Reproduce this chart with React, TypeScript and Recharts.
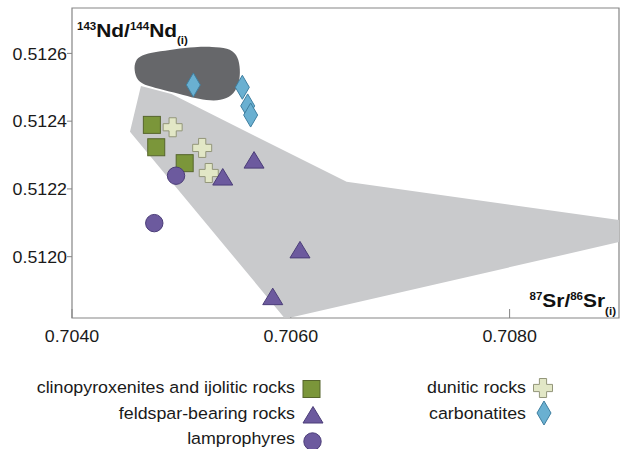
import React from 'react';
import { ScatterChart, Scatter, XAxis, YAxis, ReferenceArea, Curve } from 'recharts';

// 87Sr/86Sr(i) vs 143Nd/144Nd(i) values
const clinoSr = [0.70473, 0.70477, 0.70503];
const clinoNd = [0.512389, 0.512323, 0.512276];

const duniticSr = [0.70492, 0.70519, 0.70525];
const duniticNd = [0.512382, 0.512321, 0.512247];

const feldsparSr = [0.705378, 0.705664, 0.706084, 0.705835];
const feldsparNd = [0.512235, 0.512285, 0.51202, 0.511882];

const lamproSr = [0.704951, 0.704752];
const lamproNd = [0.512239, 0.512099];

const carboSr = [0.705109, 0.705557, 0.705606, 0.705633];
const carboNd = [0.512507, 0.5125, 0.512445, 0.512418];

// light grey field (outline vertices)
const fieldSr = [0.70453, 0.70463, 0.70491, 0.70651, 0.709, 0.709, 0.70602, 0.70594];
const fieldNd = [0.512369, 0.512504, 0.51248, 0.512221, 0.512108, 0.512043, 0.511822, 0.51182];

// dark grey field (outline control points)
const blobSr = [
  0.704567, 0.704576, 0.704631, 0.704759, 0.704941, 0.705124, 0.70528, 0.705426, 0.705508, 0.705536,
  0.705536, 0.705499, 0.705417, 0.705298, 0.705161, 0.705024, 0.704841, 0.704686, 0.704594,
];
const blobNd = [
  0.512551, 0.512578, 0.512595, 0.512604, 0.512613, 0.512619, 0.51262, 0.512616, 0.512598, 0.512563,
  0.512524, 0.512489, 0.512465, 0.512459, 0.512465, 0.512477, 0.512492, 0.512504, 0.512519,
];

const xTicks = [0.704, 0.706, 0.708];
const yTicks = [0.512, 0.5122, 0.5124, 0.5126];

const toPoints = (sr: number[], nd: number[]) => sr.map((v, i) => ({ sr: v, nd: nd[i] }));

const FONT = '"Liberation Sans", Arial, sans-serif';
const STRETCH = 1.08;
const FS = 16.5;
const AXIS = '#858585';

const Square = ({ cx, cy }: any) => (
  <rect x={cx - 8.5} y={cy - 8.5} width={17} height={17} fill="#7b963a" stroke="#56652c" strokeWidth={1} />
);

const Cross = ({ cx, cy }: any) => {
  const a = 9.5;
  const b = 3.6;
  const d = `M${cx - b},${cy - a}H${cx + b}V${cy - b}H${cx + a}V${cy + b}H${cx + b}V${cy + a}H${cx - b}V${cy + b}H${cx - a}V${cy - b}H${cx - b}Z`;
  return <path d={d} fill="#e2e7c6" stroke="#93967a" strokeWidth={1} />;
};

const Triangle = ({ cx, cy }: any) => (
  <polygon
    points={`${cx},${cy - 8.5} ${cx + 10},${cy + 8} ${cx - 10},${cy + 8}`}
    fill="#6c5a9e"
    stroke="#4b3d78"
    strokeWidth={1}
  />
);

const Dot = ({ cx, cy }: any) => <circle cx={cx} cy={cy} r={8.7} fill="#6c5a9e" stroke="#4b3d78" strokeWidth={1} />;

const Diamond = ({ cx, cy }: any) => (
  <polygon
    points={`${cx},${cy - 12} ${cx + 7},${cy} ${cx},${cy + 12} ${cx - 7},${cy}`}
    fill="#6ab0d1"
    stroke="#3f7fa0"
    strokeWidth={1}
  />
);

const XTick = ({ x, y, payload }: any) => (
  <text
    transform={`translate(${x},${y}) scale(${STRETCH},1)`}
    textAnchor="middle"
    dy="0.71em"
    fontSize={FS}
    fontFamily={FONT}
    fill="#1a1a1a"
  >
    {payload.value.toFixed(4)}
  </text>
);

const YTick = ({ x, y, payload }: any) => (
  <text
    transform={`translate(${x},${y}) scale(${STRETCH},1)`}
    textAnchor="end"
    dy="0.38em"
    fontSize={FS}
    fontFamily={FONT}
    fill="#1a1a1a"
  >
    {payload.value.toFixed(4)}
  </text>
);

const LegendRow = ({ x, y, label, Shape, sx, sy }: any) => (
  <g>
    <text
      transform={`translate(${x},${y}) scale(${STRETCH},1)`}
      textAnchor="end"
      fontSize={FS}
      fontFamily={FONT}
      fill="#1a1a1a"
    >
      {label}
    </text>
    <Shape cx={sx} cy={sy} />
  </g>
);

export default function App() {
  return (
    <div style={{ position: 'absolute', left: 0, top: 0, width: 628, height: 449, background: '#fff' }}>
      <ScatterChart width={628} height={449} margin={{ top: 8, right: 9, bottom: 91, left: 0 }}>
        <XAxis
          type="number"
          dataKey="sr"
          domain={[0.704, 0.709]}
          ticks={xTicks}
          allowDataOverflow
          axisLine={false}
          tickSize={-9}
          tickMargin={21}
          tickLine={{ stroke: AXIS }}
          tick={<XTick />}
          height={40}
        />
        <YAxis
          type="number"
          dataKey="nd"
          domain={[0.511819, 0.512734]}
          ticks={yTicks}
          allowDataOverflow
          axisLine={false}
          tickSize={5}
          tickMargin={0}
          tickLine={{ stroke: AXIS }}
          tick={<YTick />}
          width={72}
        />
        <Scatter
          data={toPoints(fieldSr, fieldNd)}
          isAnimationActive={false}
          lineType="joint"
          line={(p: any) => <Curve points={p.points} type="linearClosed" fill="#c9cacc" stroke="none" />}
          shape={() => <g />}
        />
        <Scatter
          data={toPoints(blobSr, blobNd)}
          isAnimationActive={false}
          lineType="joint"
          line={(p: any) => <Curve points={p.points} type="basisClosed" fill="#66676a" stroke="none" />}
          shape={() => <g />}
        />
        <Scatter data={toPoints(clinoSr, clinoNd)} isAnimationActive={false} shape={Square} />
        <Scatter data={toPoints(duniticSr, duniticNd)} isAnimationActive={false} shape={Cross} />
        <Scatter data={toPoints(feldsparSr, feldsparNd)} isAnimationActive={false} shape={Triangle} />
        <Scatter data={toPoints(lamproSr, lamproNd)} isAnimationActive={false} shape={Dot} />
        <Scatter data={toPoints(carboSr, carboNd)} isAnimationActive={false} shape={Diamond} />
        <ReferenceArea
          x1={0.704}
          x2={0.709}
          y1={0.511819}
          y2={0.512734}
          fill="none"
          fillOpacity={0}
          stroke={AXIS}
          strokeWidth={1.2}
          ifOverflow="extendDomain"
        />
      </ScatterChart>
      <svg width={628} height={449} style={{ position: 'absolute', left: 0, top: 0, pointerEvents: 'none' }}>
        <text
          transform={`translate(77,36.7) scale(1.1,1)`}
          fontFamily={FONT}
          fontWeight="bold"
          fontSize={19}
          fill="#111"
        >
          <tspan fontSize={10.5} dy={-7}>143</tspan>
          <tspan dy={7}>Nd/</tspan>
          <tspan fontSize={10.5} dy={-7}>144</tspan>
          <tspan dy={7}>Nd</tspan>
          <tspan fontSize={10.5} dy={7.5}>(i)</tspan>
        </text>
        <text
          transform={`translate(616,307) scale(1.1,1)`}
          textAnchor="end"
          fontFamily={FONT}
          fontWeight="bold"
          fontSize={19}
          fill="#111"
        >
          <tspan fontSize={10.5} dy={-7}>87</tspan>
          <tspan dy={7}>Sr/</tspan>
          <tspan fontSize={10.5} dy={-7}>86</tspan>
          <tspan dy={7}>Sr</tspan>
          <tspan fontSize={10.5} dy={7.5}>(i)</tspan>
        </text>
        <LegendRow x={295} y={392.7} label="clinopyroxenites and ijolitic rocks" Shape={Square} sx={311.5} sy={389} />
        <LegendRow x={295} y={418.5} label="feldspar-bearing rocks" Shape={Triangle} sx={313} sy={415} />
        <LegendRow x={295} y={444} label="lamprophyres" Shape={Dot} sx={312.5} sy={441.5} />
        <LegendRow x={526} y={392.7} label="dunitic rocks" Shape={Cross} sx={543} sy={388} />
        <LegendRow x={526} y={418.5} label="carbonatites" Shape={Diamond} sx={544} sy={413} />
      </svg>
    </div>
  );
}
